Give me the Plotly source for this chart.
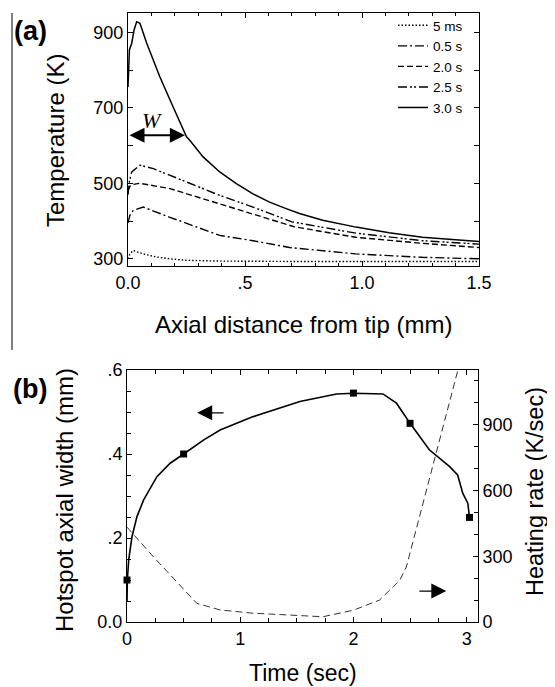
import plotly.graph_objects as go

# ---------------- Panel (a): temperature profiles ----------------
x_5ms = [0, 0.008, 0.022, 0.065, 0.12, 0.179, 0.25, 0.392, 0.7, 1.0, 1.5]
T_5ms = [300, 312, 322, 313, 305, 300, 296, 294, 293, 293, 293]

x_05s = [0, 0.008, 0.022, 0.065, 0.179, 0.392, 0.534, 0.69, 0.974, 1.258, 1.5]
T_05s = [395, 415, 428, 437, 410, 362, 348, 330, 313, 304, 300]

x_20s = [0, 0.008, 0.02, 0.051, 0.179, 0.392, 0.534, 0.71, 0.974, 1.258, 1.5]
T_20s = [480, 492, 497, 500, 486, 446, 419, 385, 357, 341, 330]

x_25s = [0, 0.006, 0.016, 0.051, 0.108, 0.25, 0.392, 0.534, 0.7, 0.974, 1.258, 1.5]
T_25s = [470, 505, 530, 548, 539, 503, 468, 437, 398, 368, 348, 339]

x_30s = [0, 0.006, 0.016, 0.026, 0.037, 0.051, 0.08, 0.108, 0.136, 0.193, 0.25,
         0.264, 0.321, 0.392, 0.463, 0.534, 0.605, 0.676, 0.733, 0.832, 0.974,
         1.116, 1.258, 1.5]
T_30s = [755, 853, 871, 906, 928, 924, 871, 826, 782, 702, 623,
         614, 570, 530, 499, 472, 450, 433, 420, 402, 384,
         369, 357, 346]

series_names = ["5 ms", "0.5 s", "2.0 s", "2.5 s", "3.0 s"]
series_x = [x_5ms, x_05s, x_20s, x_25s, x_30s]
series_T = [T_5ms, T_05s, T_20s, T_25s, T_30s]
series_dash = ["1.5px,2px", "9px,3px,2px,3px", "6px,3px", "9px,3px,2px,2px,2px,3px", "solid"]

# W marker (hotspot width at half height)
W_end = 0.243
W_level = 627

# ---------------- Panel (b): hotspot width and heating rate ----------------
t_width = [0, 0.003, 0.015, 0.044, 0.088, 0.146, 0.264, 0.381, 0.5, 0.675, 0.822,
           1.115, 1.527, 1.85, 2.0, 2.26, 2.38, 2.5, 2.67, 2.85, 2.92, 2.966,
           3.01, 3.025]
width_mm = [0.05, 0.1, 0.148, 0.203, 0.251, 0.29, 0.346, 0.378, 0.4, 0.433, 0.457,
            0.489, 0.525, 0.543, 0.5445, 0.543, 0.521, 0.473, 0.41, 0.37, 0.35, 0.306,
            0.283, 0.249]

t_marks = [0, 0.5, 2.0, 2.5, 3.025]
width_marks = [0.1, 0.4, 0.545, 0.473, 0.249]

t_rate = [0, 0.234, 0.617, 0.822, 1.115, 1.527, 1.73, 2.0, 2.23, 2.41, 2.467, 2.92]
rate = [433, 297, 85, 55, 40, 27, 24, 54, 100, 191, 251, 1145]

FONT = "Liberation Sans, Arial, sans-serif"
# the page body has an 8px margin, so the figure is sized to fill the rest of the window
OFF = 8
W_PX, H_PX = 555 - OFF, 687 - OFF

def px(x):
    return (x - OFF) / W_PX

def py(y):
    return 1 - (y - OFF) / H_PX

fig = go.Figure()

for name, xs, ts, dash in zip(series_names, series_x, series_T, series_dash):
    fig.add_trace(go.Scatter(
        x=xs, y=ts, mode="lines", name=name,
        line=dict(color="black", width=1.4 if dash != "solid" else 1.5, dash=dash),
        xaxis="x", yaxis="y",
    ))

fig.add_trace(go.Scatter(
    x=t_width, y=width_mm, mode="lines", showlegend=False,
    line=dict(color="black", width=1.6), xaxis="x2", yaxis="y2",
))
fig.add_trace(go.Scatter(
    x=t_marks, y=width_marks, mode="markers", showlegend=False,
    marker=dict(symbol="square", size=7, color="black"), xaxis="x2", yaxis="y2",
    cliponaxis=False,
))
fig.add_trace(go.Scatter(
    x=t_rate, y=rate, mode="lines", showlegend=False,
    line=dict(color="black", width=0.8, dash="7px,4px"), xaxis="x2", yaxis="y3",
))

axis_common = dict(
    showline=True, linecolor="black", linewidth=1,
    ticks="inside", ticklen=5, tickcolor="black", tickwidth=1,
    showgrid=False, zeroline=False, automargin=False,
    tickfont=dict(family=FONT, size=18, color="black"),
)

fig.update_layout(
    width=W_PX, height=H_PX,
    margin=dict(l=0, r=0, t=0, b=0, pad=0, autoexpand=False),
    paper_bgcolor="white", plot_bgcolor="white",
    font=dict(family=FONT, color="black"),
    xaxis=dict(domain=[px(128), px(479)], anchor="y", range=[0, 1.5],
               tickmode="array", tickvals=[0, 0.5, 1.0, 1.5],
               ticktext=["0.0", ".5", "1.0", "1.5"], mirror="ticks",
               minor=dict(tickmode="linear", tick0=0, dtick=0.1, ticks="inside",
                          ticklen=3, tickcolor="black"),
               **axis_common),
    yaxis=dict(domain=[py(266), py(13)], anchor="x", range=[281, 951],
               tickmode="array", tickvals=[300, 500, 700, 900],
               ticktext=["300", "500", "700", "900"], mirror="ticks",
               minor=dict(tickmode="linear", tick0=300, dtick=100, ticks="inside",
                          ticklen=5, tickcolor="black"),
               **axis_common),
    xaxis2=dict(domain=[px(127), px(478)], anchor="y2", range=[0, 3.1],
                tickmode="array", tickvals=[0, 1, 2, 3],
                ticktext=["0", "1", "2", "3"], mirror="ticks",
                minor=dict(tickmode="linear", tick0=0, dtick=0.25, ticks="inside",
                           ticklen=4, tickcolor="black"),
                **axis_common),
    yaxis2=dict(domain=[py(622), py(370)], anchor="x2", range=[0, 0.6],
                tickmode="array", tickvals=[0, 0.2, 0.4, 0.6],
                ticktext=["0.0", ".2", ".4", ".6"],
                minor=dict(tickmode="linear", tick0=0, dtick=0.05, ticks="inside",
                           ticklen=4, tickcolor="black"),
                **axis_common),
    yaxis3=dict(overlaying="y2", side="right", anchor="x2", range=[0, 1150],
                tickmode="array", tickvals=[0, 300, 600, 900],
                ticktext=["0", "300", "600", "900"],
                minor=dict(tickmode="linear", tick0=0, dtick=100, ticks="inside",
                           ticklen=4, tickcolor="black"),
                **axis_common),
    legend=dict(x=px(393), y=py(10), xanchor="left", yanchor="top",
                bgcolor="rgba(0,0,0,0)", font=dict(family=FONT, size=13.5, color="black"),
                tracegroupgap=0),
)

TITLE_FONT = dict(family=FONT, size=24, color="black")
annotations = [
    dict(text="Temperature (K)", x=px(56), y=py(141), textangle=-90, font=TITLE_FONT),
    dict(text="Axial distance from tip (mm)", x=px(303), y=py(324), font=TITLE_FONT),
    dict(text="Hotspot axial width (mm)", x=px(64), y=py(500), textangle=-90, font=TITLE_FONT),
    dict(text="Heating rate (K/sec)", x=px(535), y=py(492), textangle=-90,
         font=dict(family=FONT, size=23.5, color="black")),
    dict(text="Time (sec)", x=px(303), y=py(673), font=dict(family=FONT, size=23, color="black")),
    dict(text="<b>(a)</b>", x=px(30), y=py(31), font=dict(family=FONT, size=27, color="black")),
    dict(text="<b>(b)</b>", x=px(30), y=py(389), font=dict(family=FONT, size=27, color="black")),
]
for a in annotations:
    a.update(xref="paper", yref="paper", showarrow=False, xanchor="center", yanchor="middle")

# W double arrow and label
annotations.append(dict(
    xref="x", yref="y", axref="x", ayref="y", x=W_end, y=W_level, ax=0, ay=W_level,
    text="", showarrow=True, arrowhead=2, arrowside="end+start", arrowsize=1.5,
    arrowwidth=2, arrowcolor="black", standoff=0, startstandoff=0,
))
annotations.append(dict(
    xref="x", yref="y", x=0.104, y=666, text="<i>W</i>", showarrow=False,
    font=dict(family="Liberation Serif, Times New Roman, serif", size=22, color="black"),
))
# Panel (b) direction arrows
annotations.append(dict(
    xref="x2", yref="y2", axref="x2", ayref="y2", x=0.62, y=0.498, ax=0.866, ay=0.498,
    text="", showarrow=True, arrowhead=2, arrowsize=2.5, arrowwidth=1.2,
    arrowcolor="black", standoff=0,
))
annotations.append(dict(
    xref="x2", yref="y3", axref="x2", ayref="y3", x=2.82, y=141, ax=2.569, ay=141,
    text="", showarrow=True, arrowhead=2, arrowsize=2.5, arrowwidth=1.2,
    arrowcolor="black", standoff=0,
))
fig.update_layout(annotations=annotations)

fig.add_shape(type="line", xref="paper", yref="paper",
              x0=px(12), x1=px(12), y0=py(13), y1=py(350),
              line=dict(color="black", width=1))

fig.write_html("out.html")
